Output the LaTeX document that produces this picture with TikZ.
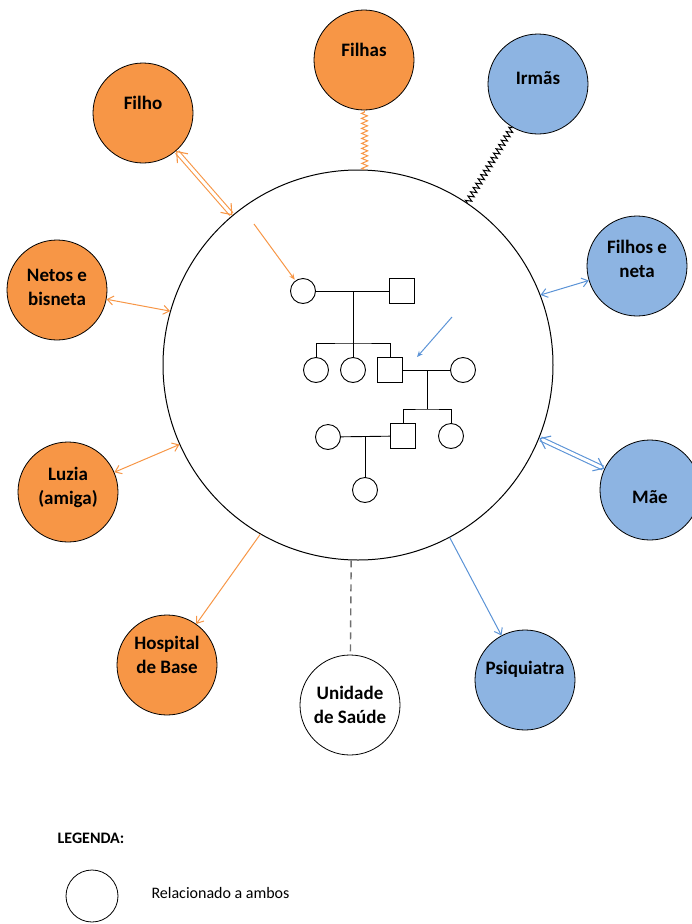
\documentclass[tikz,border=0pt]{standalone}
\usepackage{fontspec}
\setmainfont{Carlito}
\usetikzlibrary{arrows.meta,decorations.pathmorphing}
\definecolor{laranja}{HTML}{F79646}
\definecolor{azul}{HTML}{8DB4E2}
\definecolor{azullinha}{HTML}{5B93D6}
\definecolor{cinza}{HTML}{6F6F6F}

\begin{document}
\begin{tikzpicture}
          [x=1pt,y=-1pt,
          font=\bfseries\fontsize{19}{24}\selectfont,
          pessoa/.style={shape=circle,draw=black,minimum size=100pt,inner sep=0pt,align=center,line width=0.8pt},
          laranja/.style={pessoa,fill=laranja},
          azul/.style={pessoa,fill=azul},
          acima/.style={text depth=#1},
          fem/.style={shape=circle,draw=black,minimum size=25pt,inner sep=0pt,line width=0.9pt},
          masc/.style={shape=rectangle,draw=black,minimum size=25pt,inner sep=0pt,line width=0.9pt},
          arc/.style={-,line width=0.9pt},
          vinc/.style={<->,>={Straight Barb[length=6pt,width=9pt]},line width=1pt},
          duplo/.style={<->,>={Straight Barb[length=9pt,width=14pt]},double,double distance=3pt,line width=1.1pt},
          mola/.style={decorate,decoration={zigzag,amplitude=3pt,segment length=5pt},line width=1pt}]

            \useasboundingbox (0,0) rectangle (691,924);

            % ecomapa
            \node (main) [shape=circle,draw=black,minimum size=390pt,line width=1pt] at (358,365) {};
            \node (filho) [laranja,acima=20pt] at (143,113) {Filho};
            \node (filhas) [laranja,acima=20pt] at (364,60) {Filhas};
            \node (irmas) [azul,acima=12pt] at (538,84) {Irmãs};
            \node (netos) [laranja,acima=6pt] at (57,290) {Netos e\\bisneta};
            \node (filhos) [azul,acima=14pt] at (637,266) {Filhos e\\neta};
            \node (luzia) [laranja,acima=12pt] at (68,492) {Luzia\\(amiga)};
            \node (mae) [azul,text height=27pt] at (650,490) {Mãe};
            \node (hosp) [laranja,acima=20pt] at (167,665) {Hospital\\de Base};
            \node (unid) [pessoa,fill=white] at (350,705) {Unidade\\de Saúde};
            \node (psiq) [azul,acima=24pt] at (525,680) {Psiquiatra};

            \draw [duplo,draw=laranja] (main.130) -- (filho);
            \draw [mola,draw=laranja] (main.88) -- (filhas);
            \draw [mola,draw=black] (main.56) -- (irmas);
            \draw [vinc,draw=laranja] (main.164) -- (netos);
            \draw [vinc,draw=azullinha] (main.21) -- (filhos);
            \draw [vinc,draw=laranja] (main.204) -- (luzia);
            \draw [duplo,draw=azullinha] (main.338) -- (mae);
            \draw [vinc,-{Straight Barb[length=6pt,width=9pt]},draw=laranja] (main.240) -- (hosp);
            \draw [dashed,dash pattern=on 7pt off 5pt,line width=1.4pt,draw=cinza] (main.268) -- (unid);
            \draw [vinc,-{Straight Barb[length=6pt,width=9pt]},draw=azullinha] (main.298) -- (psiq);

            % genograma
            \node (g1) [fem] at (303,291) {};
            \node (g2) [masc] at (402,291) {};
            \node (g3) [fem] at (316,370) {};
            \node (g4) [fem] at (353,370) {};
            \node (g5) [masc] at (390,370) {};
            \node (g6) [fem] at (463,370) {};
            \node (g7) [masc] at (403,436) {};
            \node (g8) [fem] at (451,436) {};
            \node (g9) [fem] at (328,437) {};
            \node (g10) [fem] at (365,490) {};

            \coordinate (c1) at (353,291);
            \coordinate (c2) at (353,343);
            \coordinate (c3) at (427,370);
            \coordinate (c4) at (427,409);
            \coordinate (c5) at (365,436);

            \draw [arc] (g1) -- (g2);
            \draw [arc] (c1) -- (g4);
            \draw [arc] (g3) |- (c2) -| (g5);
            \draw [arc] (g5) -- (g6);
            \draw [arc] (c3) -- (c4);
            \draw [arc] (g7) |- (c4) -| (g8);
            \draw [arc] (g9) -- (g7);
            \draw [arc] (c5) -- (g10);

            \coordinate (oa) at (254,224);
            \coordinate (ba1) at (452,317);
            \coordinate (ba2) at (417,357);
            \draw [->,>={Stealth[length=6pt,width=5pt]},line width=1pt,draw=laranja,shorten >=1pt] (oa) -- (g1);
            \draw [->,>={Stealth[length=6pt,width=5pt]},line width=1pt,draw=azullinha] (ba1) -- (ba2);

            % legenda
            \node (leg) [font=\bfseries\fontsize{16}{18}\selectfont] at (91,838) {LEGENDA:};
            \node (legc) [shape=circle,draw=black,minimum size=52pt,line width=0.8pt] at (92,896) {};
            \node (legt) [anchor=west,font=\fontsize{16}{18}\selectfont] at (148,893) {Relacionado a ambos};

\end{tikzpicture}
\end{document}
